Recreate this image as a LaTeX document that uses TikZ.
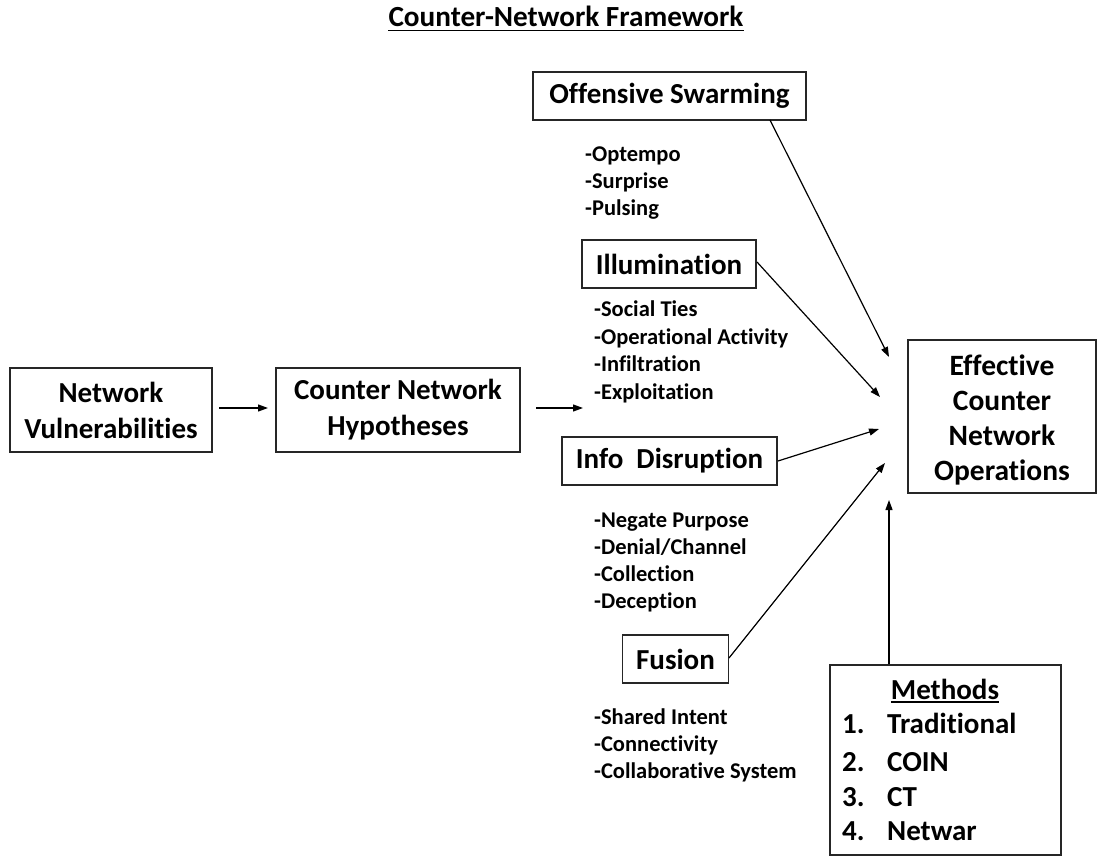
\documentclass[tikz,border=0pt]{standalone}
\usepackage{fontspec}
\setmainfont[Ligatures=NoCommon]{Carlito}
\usetikzlibrary{arrows.meta}
\begin{document}
\begin{tikzpicture}[x=1pt,y=-1pt,
  box/.style={draw=black!85,line width=1.2pt,inner sep=0pt,align=center,
    font=\bfseries\fontsize{29}{36}\selectfont},
  bul/.style={anchor=base west,inner sep=0pt,font=\bfseries\fontsize{22.5}{27}\selectfont},
  mtxt/.style={anchor=base west,inner sep=0pt,font=\bfseries\fontsize{29}{35}\selectfont},
  uline/.style={line width=1.8pt},
  arr/.style={line width=1.2pt,-{Triangle[length=10pt,width=7pt]}}]
\useasboundingbox (0,0) rectangle (1114,858);
% title
\node[anchor=base,inner sep=0pt,font=\bfseries\fontsize{29.2}{35}\selectfont] (title) at (566,27) {Counter-Network Framework};
\draw[uline] ([yshift=-3.5pt]title.base west) -- ([yshift=-3.5pt]title.base east);
% boxes
\node[box,minimum width=273pt,minimum height=48pt] (os) at (669.5,96) {Offensive Swarming};
\node[box,minimum width=174pt,minimum height=48pt] (ill) at (669,264) {Illumination};
\node[box,minimum width=215pt,minimum height=48pt] (info) at (669.5,461) {Info\ \ Disruption};
\node[box,minimum width=106pt,minimum height=48pt] (fus) at (675.5,659) {Fusion};
\node[box,minimum width=202pt,minimum height=84pt] (nv) at (111,410) {Network\\Vulnerabilities};
\node[box,minimum width=244pt,minimum height=84pt] (cnh) at (398,410) {Counter Network\\Hypotheses};
\node[box,minimum width=188pt,minimum height=153pt] (eff) at (1002,416.5) {};
\node[align=center,inner sep=0pt,font=\bfseries\fontsize{29.5}{35.2}\selectfont] (efft) at (1002,420) {Effective\\Counter\\Network\\Operations};
\node[box,minimum width=231pt,minimum height=190pt] (meth) at (945.5,760) {};
% methods text
\node[anchor=base,inner sep=0pt,font=\bfseries\fontsize{29}{35}\selectfont] (mh) at (945,699) {Methods};
\draw[uline] ([yshift=-3pt]mh.base west) -- ([yshift=-3pt]mh.base east);
\node[mtxt] (m1n) at (842,733) {1.};
\node[mtxt] (m1) at (887,733) {Traditional};
\node[mtxt] (m2n) at (842,771) {2.};
\node[mtxt] (m2) at (887,771) {COIN};
\node[mtxt] (m3n) at (842,806) {3.};
\node[mtxt] (m3) at (887,806) {CT};
\node[mtxt] (m4n) at (842,840) {4.};
\node[mtxt] (m4) at (887,840) {Netwar};
% bullets
\node[bul] (b11) at (585,162) {-Optempo};
\node[bul] (b12) at (585,189) {-Surprise};
\node[bul] (b13) at (585,216) {-Pulsing};
\node[bul] (b21) at (594,317) {-Social Ties};
\node[bul] (b22) at (594,344.5) {-Operational Activity};
\node[bul] (b23) at (594,372) {-Infiltration};
\node[bul] (b24) at (594,399.5) {-Exploitation};
\node[bul] (b31) at (594,527) {-Negate Purpose};
\node[bul] (b32) at (594,554) {-Denial/Channel};
\node[bul] (b33) at (594,581) {-Collection};
\node[bul] (b34) at (594,608) {-Deception};
\node[bul] (b41) at (594,724) {-Shared Intent};
\node[bul] (b42) at (594,751) {-Connectivity};
\node[bul] (b43) at (594,778) {-Collaborative System};
% connector coordinates
\coordinate (a1s) at (219,408);
\coordinate (a1e) at (268,408);
\coordinate (a2s) at (536,408);
\coordinate (a2e) at (583,408);
\coordinate (osS) at (770,120);
\coordinate (osE) at (889,357);
\coordinate (illS) at (757,262);
\coordinate (illE) at (880,397);
\coordinate (infS) at (778,461);
\coordinate (infE) at (879,429);
\coordinate (fusS) at (729,658);
\coordinate (fusE) at (885,463);
\coordinate (methE) at (889,500);
\draw[arr] (a1s) -- (a1e);
\draw[arr] (a2s) -- (a2e);
\draw[arr] (osS) -- (osE);
\draw[arr] (illS) -- (illE);
\draw[arr] (infS) -- (infE);
\draw[arr] (fusS) -- (fusE);
\draw[arr] (meth.north -| methE) -- (methE);
\end{tikzpicture}
\end{document}
